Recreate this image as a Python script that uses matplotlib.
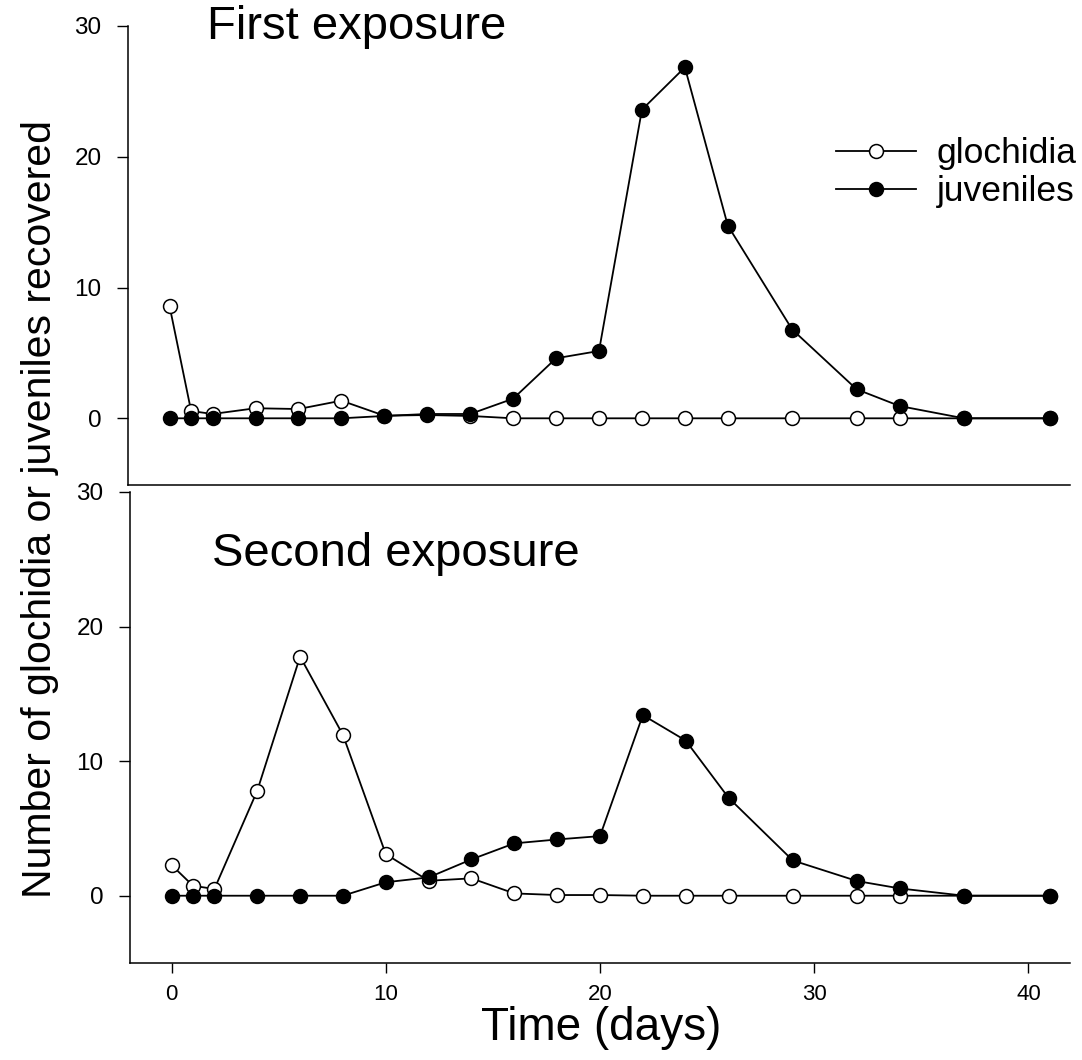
import matplotlib
matplotlib.use("Agg")
import matplotlib.pyplot as plt

plt.rcParams['font.family'] = ['Liberation Sans', 'DejaVu Sans']

# sampling days (same for both exposures)
days = [0, 1, 2, 4, 6, 8, 10, 12, 14, 16, 18, 20, 22, 24, 26, 29, 32, 34, 37, 41]

# first exposure
glo_first = [8.55, 0.56, 0.33, 0.77, 0.71, 1.35, 0.2, 0.25, 0.18, 0, 0, 0, 0, 0, 0, 0, 0, 0, 0, 0]
juv_first = [0, 0, 0, 0, 0, 0, 0.18, 0.33, 0.33, 1.5, 4.59, 5.15, 23.6, 26.84, 14.74, 6.79, 2.22, 0.94, 0, 0]

# second exposure
glo_second = [2.28, 0.74, 0.5, 7.8, 17.77, 11.95, 3.09, 1.11, 1.29, 0.17, 0.05, 0.05, 0, 0, 0, 0, 0, 0, 0, 0]
juv_second = [0, 0, 0, 0, 0, 0, 1.0, 1.36, 2.7, 3.89, 4.18, 4.43, 13.42, 11.53, 7.28, 2.62, 1.09, 0.54, 0, 0]

panel_titles = ["First exposure", "Second exposure"]
series_labels = ["glochidia", "juveniles"]

W, H = 1082, 1060
fig = plt.figure(figsize=(W / 100, H / 100), dpi=100)

def px_axes(left, top, right, bottom):
    return fig.add_axes([left / W, 1 - bottom / H, (right - left) / W, (bottom - top) / H])

ax_top = px_axes(128, 26, 1070, 485)
ax_bot = px_axes(130, 492, 1070, 963)

line_kw = dict(color='black', lw=1.3, ms=10, mew=1.1, mec='black')

def draw(ax, glo, juv):
    ax.plot(days, glo, marker='o', mfc='white', label=series_labels[0], zorder=2, **line_kw)
    ax.plot(days, juv, marker='o', mfc='black', label=series_labels[1], zorder=3, **line_kw)
    ax.set_xlim(-1.94, 41.94)
    ax.set_ylim(-5.1, 30)
    ax.set_yticks([0, 10, 20, 30])
    ax.spines['top'].set_visible(False)
    ax.spines['right'].set_visible(False)
    for s in ('left', 'bottom'):
        ax.spines[s].set_linewidth(1.1)
    ax.tick_params(axis='y', direction='out', length=8, width=1, pad=11, labelsize=17.5)
    ax.tick_params(axis='x', direction='out', length=7, width=1, pad=8, labelsize=16)

draw(ax_top, glo_first, juv_first)
draw(ax_bot, glo_second, juv_second)
ax_bot.set_ylim(-5.0, 30)

# top panel: bottom line only, no x ticks
ax_top.tick_params(axis='x', bottom=False, labelbottom=False)
ax_bot.set_xticks([0, 10, 20, 30, 40])

fig.text(207 / W, 1 - 27 / H, panel_titles[0], fontsize=34, va='center', ha='left')
fig.text(212 / W, 1 - 554 / H, panel_titles[1], fontsize=34, va='center', ha='left')

ax_top.legend(loc='upper left', bbox_to_anchor=(836 / W, 1 - 137 / H),
              bbox_transform=fig.transFigure, frameon=False, fontsize=25.5,
              numpoints=1, handlelength=2.25, handletextpad=0.6,
              labelspacing=0.15, borderpad=0, borderaxespad=0)

fig.text(601 / W, 1 - 1040 / H, "Time (days)", fontsize=33, ha='center', va='baseline')
fig.text(40 / W, 1 - 509 / H, "Number of glochidia or juveniles recovered",
         fontsize=29.5, rotation=90, ha='center', va='center')

fig.savefig("out.png", dpi=100)
